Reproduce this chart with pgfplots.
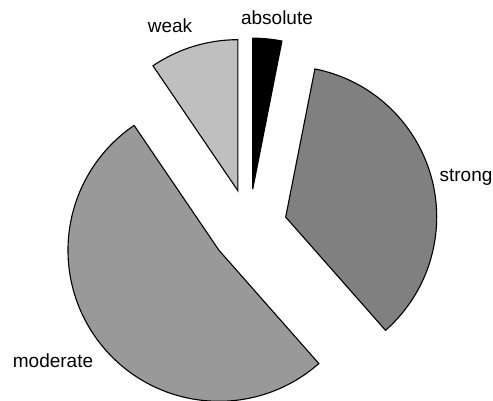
\documentclass[border=0pt]{standalone}
\usepackage{pgfplots}
\pgfplotsset{compat=1.18}
\usepackage{fontspec}
\setmainfont{Liberation Sans}
\definecolor{cabs}{gray}{0.0}
\definecolor{cstrong}{gray}{0.5}
\definecolor{cmod}{gray}{0.6}
\definecolor{cweak}{gray}{0.75}
% pie slice: value in percent, fill colour; slices run clockwise from 12 o'clock
\gdef\cum{0}
\newcommand\pieslice[2]{%
  \pgfmathsetmacro\sa{90-3.6*\cum}%
  \pgfmathsetmacro\sb{90-3.6*(\cum+#1)}%
  \pgfmathsetmacro\sm{(\sa+\sb)/2}%
  \edef\temp{\noexpand\filldraw[fill=#2,draw=black,line width=1.1pt,line join=miter,shift={(\sm:38pt)}]
    (axis cs:249,173) -- ++(\sa:151pt) arc[start angle=\sa, end angle=\sb, radius=151pt] -- cycle;}%
  \temp
  \pgfmathsetmacro\newcum{\cum+#1}%
  \xdef\cum{\newcum}%
}
\begin{document}
\begin{tikzpicture}
\begin{axis}[
  scale only axis, width=493pt, height=400pt,
  xmin=0, xmax=493, ymin=0, ymax=400,
  hide axis,
]
\path (rel axis cs:0,0) rectangle (rel axis cs:1,1);
\pieslice{3.1}{cabs}
\pieslice{35.4}{cstrong}
\pieslice{52.0}{cmod}
\pieslice{9.5}{cweak}
\node[anchor=base, font=\fontsize{19}{22}\selectfont] at (axis cs:170,367) {weak};
\node[anchor=base, font=\fontsize{19}{22}\selectfont] at (axis cs:277,375) {absolute};
\node[anchor=base, font=\fontsize{19}{22}\selectfont] at (axis cs:466,219) {strong};
\node[anchor=base, font=\fontsize{19}{22}\selectfont] at (axis cs:53,33) {moderate};
\end{axis}
\end{tikzpicture}
\end{document}
